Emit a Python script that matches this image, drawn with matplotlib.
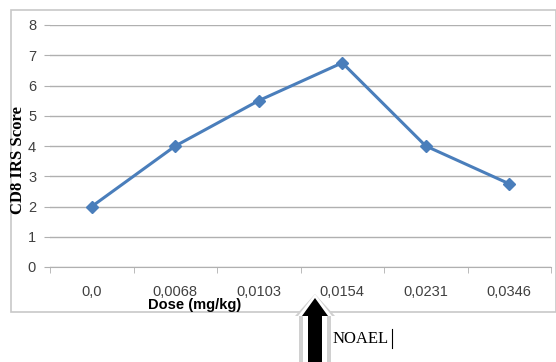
import numpy as np
import matplotlib.pyplot as plt
import matplotlib.patches as patches

doses = ['0,0', '0,0068', '0,0103', '0,0154', '0,0231', '0,0346']
scores = [2, 4, 5.5, 6.75, 4, 2.75]

W, H = 556, 362
fig = plt.figure(figsize=(W/100, H/100), dpi=100)
ax = fig.add_axes([50/W, 1-267/H, 501/W, (267-25)/H])

x = np.arange(len(doses))
ax.plot(x, scores, color='#4a7ebb', lw=2.2, marker='D', ms=6, zorder=3)
ax.set_xlim(-0.5, len(doses)-0.5)
ax.set_ylim(0, 8)
ax.set_yticks(range(0, 9))
ax.yaxis.grid(True, color='#b0b0b0', lw=1)
ax.set_axisbelow(True)
ax.set_xticks(x)
ax.set_xticklabels(doses)
ax.set_xticks(np.arange(-0.5, len(doses)), minor=True)
ax.tick_params(axis='x', which='major', length=0, pad=13, labelsize=10.5, colors='#404040')
ax.tick_params(axis='x', which='minor', length=4, color='#b0b0b0', direction='out')
ax.tick_params(axis='y', length=4, color='#b0b0b0', labelsize=10.5, colors='#404040', pad=6)
for s in ['top', 'right', 'left']:
    ax.spines[s].set_visible(False)
ax.spines['bottom'].set_color('#b0b0b0')
for t in ax.get_xticklabels() + ax.get_yticklabels():
    t.set_fontfamily('Liberation Sans')

fig.text(18/W, 1-160/H, 'CD8 IRS Score', rotation=90, ha='center', va='center',
         fontsize=12, fontweight='bold', family='Liberation Serif')
fig.text(195/W, 1-305/H, 'Dose (mg/kg)', ha='center', va='center',
         fontsize=10.5, fontweight='bold', family='Liberation Sans')

# chart border
fig.patches.append(patches.Rectangle((11/W, 1-312/H), (W-11)/W, (312-10)/H,
                   transform=fig.transFigure, fill=False, ec='#c8c8c8', lw=1.2))

# NOAEL arrow with soft glow
for w, hw, c in [(32, 40, '#d0d0d0'), (24, 34, 'white'), (14, 26, 'black')]:
    tip = 298 if c == 'black' else 294
    fig.patches.append(patches.FancyArrow(315/W, 0, 0, (362-tip)/H, width=w/W,
                       head_width=hw/W, head_length=(18 + (tip == 294) * 4)/H,
                       length_includes_head=True, transform=fig.transFigure,
                       fc=c, ec='none'))
fig.text(333/W, 1-339/H, 'NOAEL', ha='left', va='center', fontsize=12,
         family='Liberation Serif')
fig.lines.append(plt.Line2D([392/W, 392/W], [1-348/H, 1-329/H], transform=fig.transFigure,
                            color='black', lw=0.8))

fig.savefig('out.png', dpi=100)
